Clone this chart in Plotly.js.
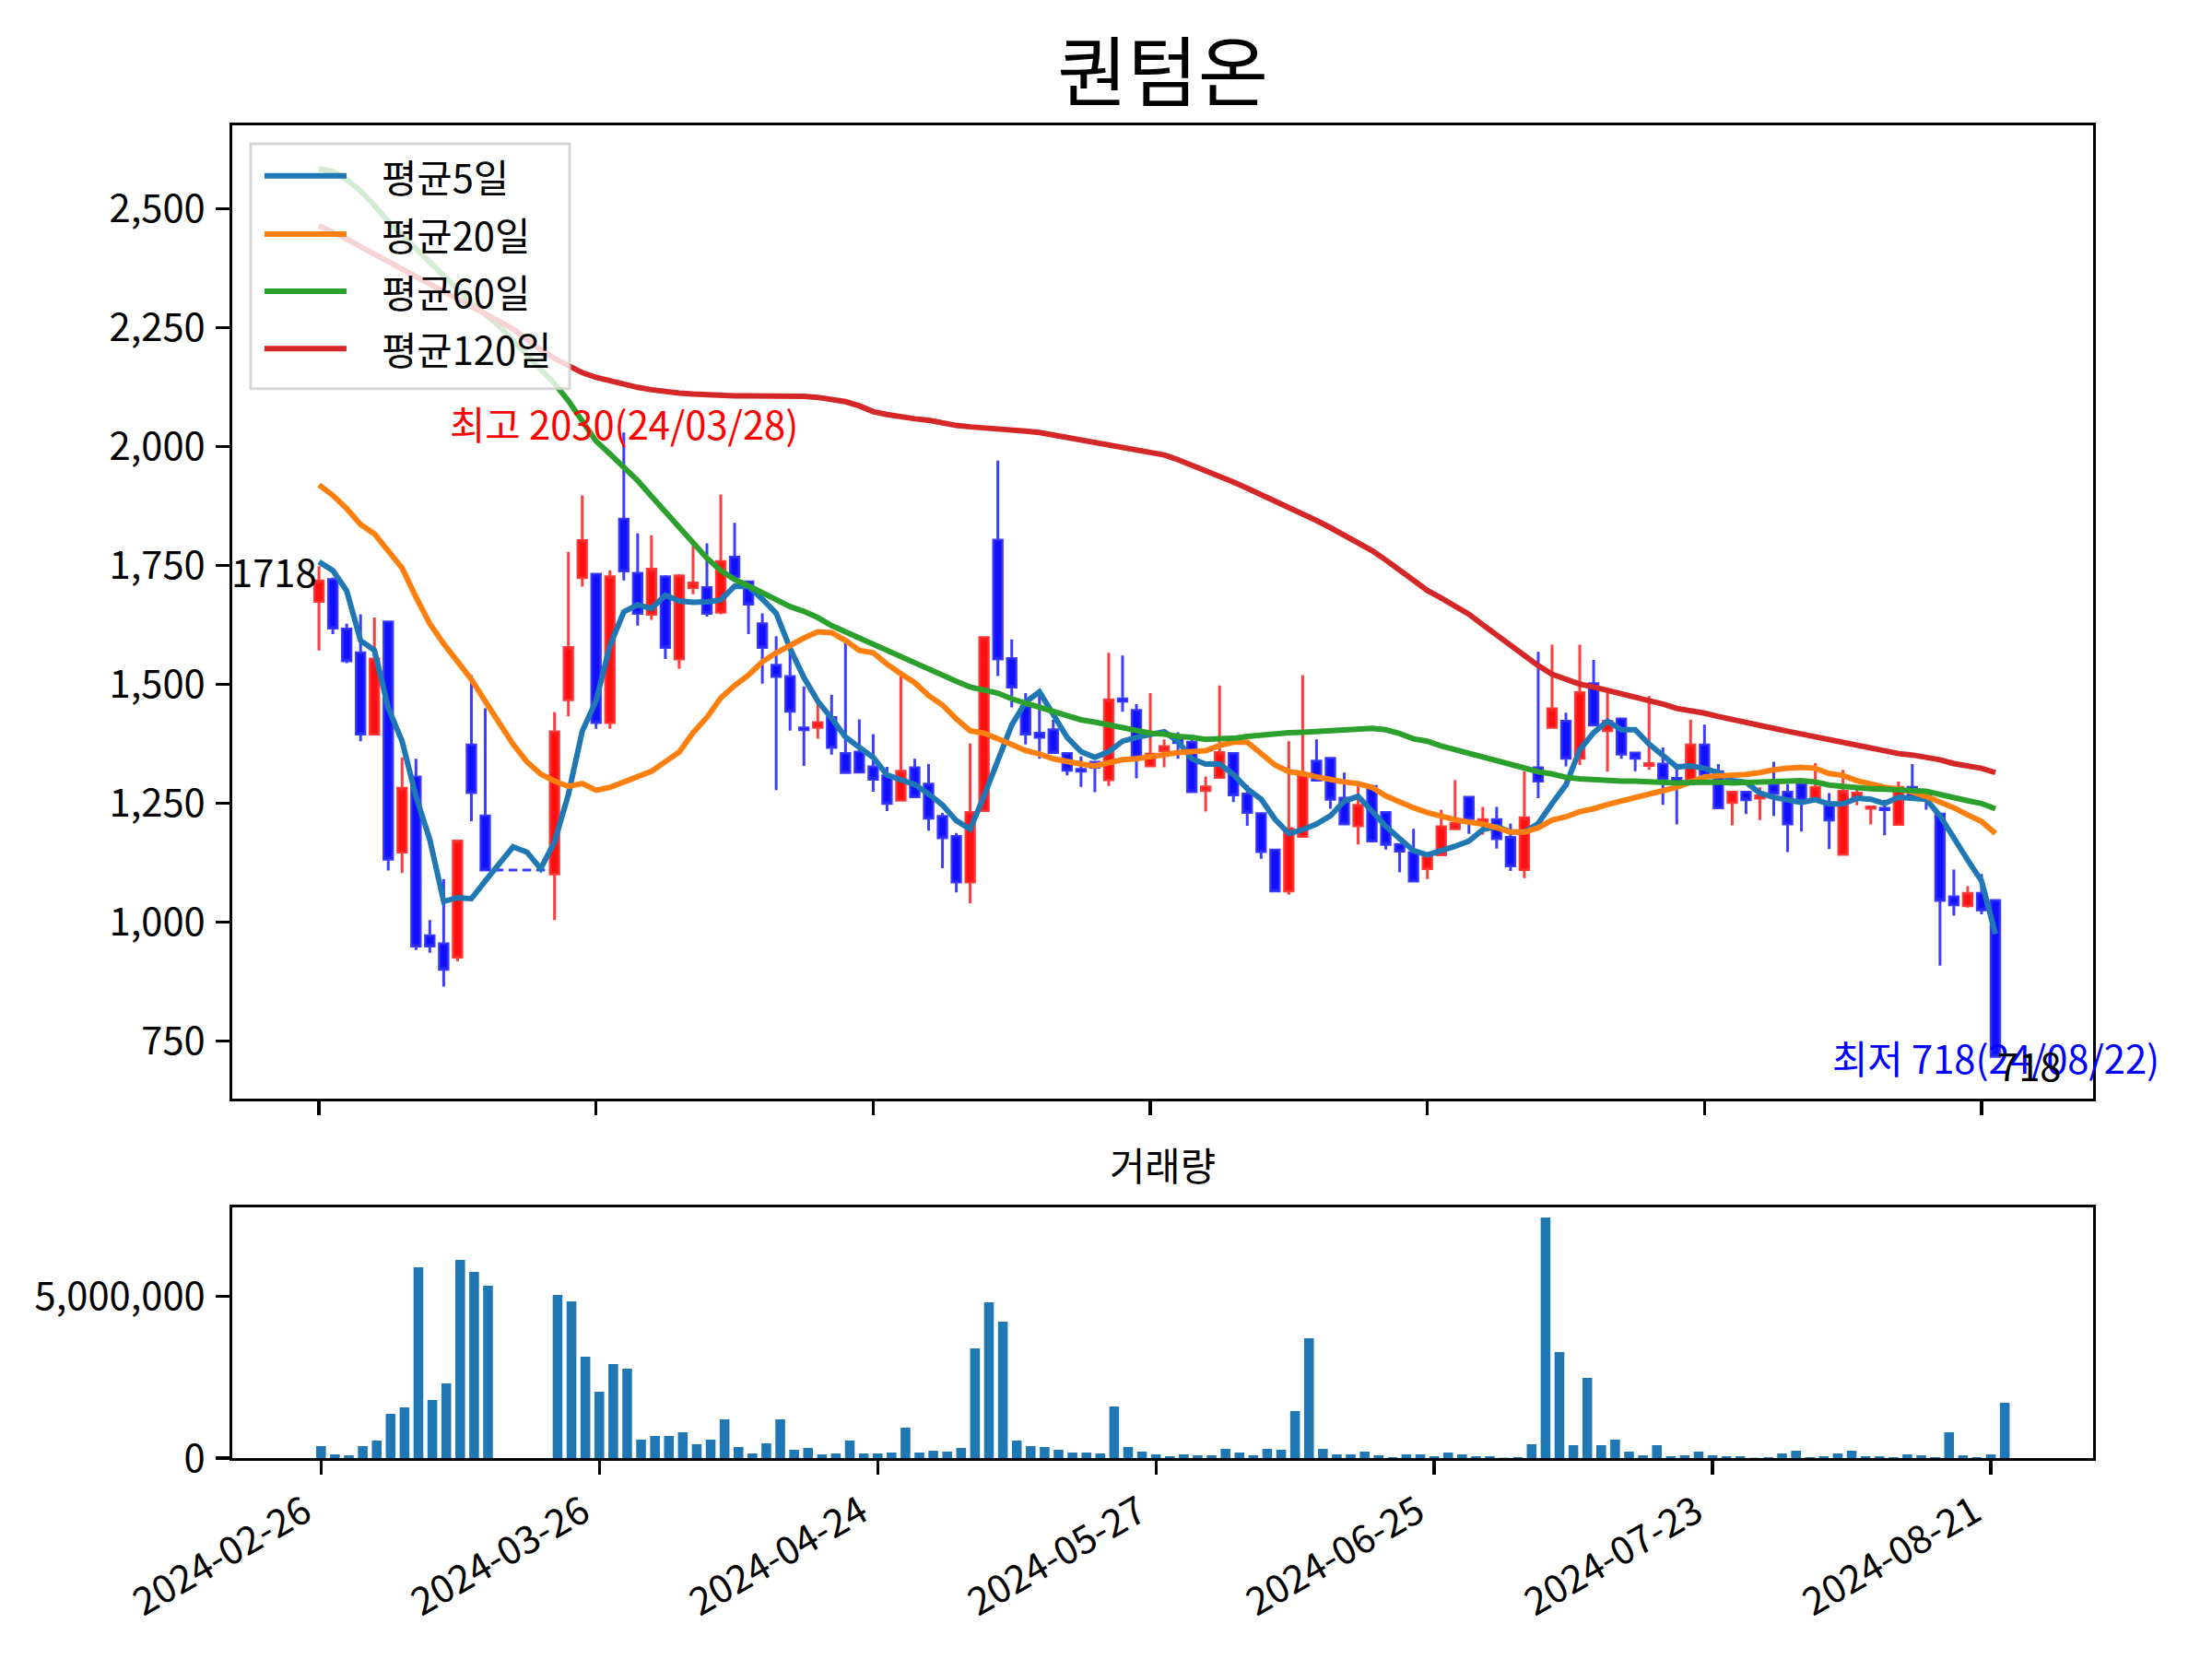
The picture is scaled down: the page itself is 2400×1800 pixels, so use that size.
<!DOCTYPE html>
<html>
<head>
<meta charset="utf-8">
<script src="https://cdn.plot.ly/plotly-3.0.1.min.js"></script>
<style>
  body { margin: 0; background: #ffffff; }
  #chart { width: 2400px; height: 1800px; }
</style>
</head>
<body>
<div id="chart"></div>
<script>
// Tick labels on the date axis (trading-day index -> label)
const tickIdx = [0, 20, 40, 60, 80, 100, 120];
const tickLabels = ["2024-02-26", "2024-03-26", "2024-04-24", "2024-05-27", "2024-06-25", "2024-07-23", "2024-08-21"];

// Daily OHLC
const open = [1675, 1721, 1617, 1567, 1396, 1632, 1148, 1306, 972, 955,
  927, 1373, 1224, 1110, 1110, 1110, 1110, 1102, 1468, 1725,
  1732, 1420, 1848, 1734, 1648, 1727, 1554, 1704, 1704, 1652,
  1768, 1716, 1628, 1541, 1517, 1409, 1410, 1431, 1355, 1358,
  1327, 1308, 1257, 1325, 1291, 1223, 1181, 1085, 1235, 1804,
  1555, 1453, 1398, 1405, 1355, 1322, 1337, 1300, 1470, 1446,
  1329, 1361, 1385, 1379, 1277, 1305, 1355, 1270, 1229, 1152,
  1066, 1181, 1339, 1345, 1261, 1203, 1286, 1231, 1164, 1147,
  1113, 1142, 1197, 1263, 1208, 1216, 1179, 1111, 1325, 1410,
  1423, 1345, 1502, 1403, 1428, 1356, 1330, 1333, 1303, 1302,
  1373, 1317, 1252, 1274, 1261, 1289, 1274, 1291, 1261, 1250,
  1143, 1261, 1240, 1240, 1206, 1284, 1272, 1228, 1054, 1035,
  1061, 1046];
const high = [1749, 1725, 1628, 1648, 1641, 1635, 1347, 1344, 1005, 1091,
  1171, 1520, 1450, 1110, 1110, 1110, 1110, 1442, 1779, 1898,
  1732, 1740, 2030, 1818, 1814, 1730, 1732, 1792, 1797, 1900,
  1840, 1719, 1650, 1602, 1573, 1496, 1465, 1479, 1589, 1427,
  1396, 1327, 1517, 1344, 1333, 1230, 1188, 1376, 1599, 1971,
  1595, 1482, 1482, 1426, 1357, 1349, 1338, 1567, 1561, 1459,
  1482, 1385, 1400, 1385, 1307, 1498, 1355, 1289, 1229, 1152,
  1381, 1520, 1385, 1345, 1315, 1286, 1286, 1234, 1164, 1197,
  1140, 1237, 1299, 1263, 1243, 1243, 1208, 1318, 1569, 1584,
  1441, 1584, 1552, 1483, 1428, 1356, 1476, 1368, 1328, 1426,
  1416, 1333, 1274, 1274, 1284, 1338, 1291, 1291, 1335, 1272,
  1321, 1287, 1244, 1258, 1296, 1333, 1276, 1228, 1111, 1076,
  1102, 1046];
const low = [1572, 1606, 1545, 1381, 1395, 1109, 1104, 942, 936, 865,
  918, 1213, 1107, 1110, 1110, 1110, 1110, 1005, 1433, 1706,
  1407, 1407, 1719, 1624, 1636, 1554, 1533, 1690, 1643, 1648,
  1725, 1606, 1502, 1278, 1403, 1329, 1386, 1353, 1315, 1315,
  1275, 1234, 1257, 1262, 1193, 1114, 1063, 1040, 1235, 1518,
  1452, 1374, 1344, 1356, 1309, 1285, 1274, 1287, 1443, 1303,
  1327, 1326, 1344, 1275, 1233, 1302, 1253, 1203, 1134, 1066,
  1058, 1181, 1298, 1239, 1206, 1164, 1170, 1153, 1105, 1086,
  1091, 1142, 1196, 1186, 1184, 1155, 1108, 1093, 1261, 1409,
  1328, 1331, 1414, 1317, 1344, 1318, 1321, 1247, 1206, 1302,
  1310, 1241, 1204, 1228, 1215, 1224, 1148, 1191, 1261, 1154,
  1142, 1246, 1206, 1183, 1205, 1264, 1237, 909, 1014, 1031,
  1017, 718];
const close = [1718, 1619, 1550, 1396, 1554, 1133, 1282, 950, 950, 901,
  1171, 1273, 1110, 1110, 1110, 1110, 1110, 1401, 1578, 1803,
  1420, 1727, 1739, 1650, 1743, 1578, 1729, 1714, 1650, 1759,
  1727, 1669, 1578, 1517, 1444, 1405, 1420, 1368, 1315, 1316,
  1301, 1250, 1318, 1264, 1219, 1178, 1085, 1231, 1599, 1554,
  1495, 1396, 1389, 1357, 1320, 1318, 1326, 1468, 1465, 1349,
  1354, 1370, 1378, 1275, 1285, 1357, 1268, 1231, 1149, 1066,
  1197, 1308, 1299, 1259, 1207, 1246, 1171, 1164, 1150, 1087,
  1140, 1201, 1208, 1218, 1216, 1176, 1119, 1220, 1297, 1449,
  1345, 1483, 1415, 1423, 1354, 1345, 1334, 1302, 1298, 1373,
  1311, 1241, 1274, 1258, 1266, 1271, 1207, 1259, 1284, 1215,
  1276, 1272, 1243, 1237, 1284, 1265, 1258, 1046, 1037, 1061,
  1026, 718];

// Daily volume
const volume = [371000, 114000, 86000, 371000, 542000, 1369000, 1569000, 5904000, 1797000, 2310000,
  6132000, 5761000, 5333000, 0, 0, 0, 0, 5048000, 4849000, 3137000,
  2054000, 2909000, 2767000, 570000, 685000, 685000, 799000, 428000, 570000, 1198000,
  342000, 143000, 456000, 1198000, 257000, 314000, 114000, 143000, 542000, 143000,
  143000, 171000, 941000, 171000, 228000, 200000, 314000, 3394000, 4820000, 4221000,
  542000, 371000, 342000, 257000, 171000, 171000, 143000, 1597000, 342000, 200000,
  114000, 57000, 114000, 86000, 86000, 285000, 171000, 86000, 285000, 257000,
  1455000, 3708000, 285000, 114000, 114000, 200000, 86000, 29000, 114000, 114000,
  57000, 171000, 114000, 57000, 57000, 10000, 29000, 428000, 7444000, 3280000,
  399000, 2481000, 399000, 570000, 200000, 86000, 399000, 57000, 86000, 200000,
  86000, 57000, 57000, 10000, 29000, 143000, 228000, 29000, 57000, 143000,
  228000, 57000, 57000, 29000, 114000, 86000, 29000, 799000, 86000, 29000,
  114000, 1711000];

// Moving averages as drawn in the picture
const ma5 = [1758, 1740, 1697, 1593, 1572, 1451, 1381, 1265, 1174, 1044,
  1052, 1050, 1087, 1122, 1159, 1148, 1113, 1169, 1269, 1402,
  1466, 1582, 1653, 1668, 1660, 1688, 1676, 1673, 1674, 1678,
  1707, 1706, 1680, 1650, 1576, 1515, 1465, 1429, 1390, 1368,
  1347, 1310, 1301, 1290, 1270, 1247, 1214, 1196, 1266, 1340,
  1415, 1463, 1485, 1437, 1389, 1359, 1347, 1359, 1381, 1389,
  1396, 1401, 1381, 1344, 1333, 1333, 1311, 1281, 1259, 1217,
  1187, 1195, 1207, 1224, 1255, 1265, 1234, 1202, 1176, 1151,
  1142, 1150, 1160, 1171, 1195, 1202, 1190, 1190, 1208, 1250,
  1289, 1363, 1399, 1423, 1405, 1405, 1375, 1351, 1327, 1329,
  1324, 1315, 1298, 1295, 1272, 1263, 1258, 1252, 1258, 1249,
  1249, 1261, 1259, 1250, 1263, 1261, 1259, 1224, 1176, 1131,
  1087, 976];
const ma20 = [1920, 1898, 1870, 1837, 1817, 1782, 1745, 1684, 1628, 1586,
  1550, 1511, 1465, 1420, 1375, 1338, 1312, 1297, 1286, 1292,
  1278, 1284, 1296, 1308, 1318, 1338, 1358, 1399, 1431, 1472,
  1498, 1520, 1548, 1567, 1583, 1598, 1611, 1609, 1593, 1572,
  1567, 1543, 1523, 1504, 1477, 1457, 1428, 1403, 1398, 1387,
  1374, 1361, 1354, 1344, 1337, 1333, 1329, 1337, 1342, 1344,
  1348, 1354, 1357, 1359, 1361, 1372, 1379, 1379, 1354, 1331,
  1317, 1313, 1306, 1300, 1295, 1292, 1284, 1266, 1252, 1241,
  1231, 1222, 1216, 1211, 1207, 1199, 1190, 1190, 1199, 1215,
  1222, 1233, 1239, 1248, 1255, 1263, 1270, 1276, 1284, 1295,
  1306, 1308, 1309, 1311, 1315, 1321, 1324, 1326, 1324, 1313,
  1309, 1298, 1291, 1284, 1280, 1274, 1265, 1254, 1241, 1226,
  1212, 1187];
const ma60 = [2585, 2579, 2562, 2538, 2508, 2474, 2445, 2416, 2389, 2358,
  2329, 2303, 2279, 2254, 2224, 2193, 2163, 2133, 2097, 2055,
  2012, 1985, 1958, 1929, 1896, 1863, 1831, 1797, 1766, 1740,
  1721, 1708, 1693, 1680, 1664, 1654, 1641, 1624, 1611, 1595,
  1583, 1570, 1557, 1545, 1532, 1520, 1507, 1495, 1489, 1482,
  1470, 1461, 1450, 1441, 1433, 1426, 1421, 1415, 1409, 1404,
  1398, 1396, 1391, 1389, 1385, 1386, 1387, 1391, 1394, 1396,
  1399, 1400, 1402, 1404, 1405, 1407, 1408, 1405, 1397, 1386,
  1381, 1371, 1363, 1355, 1347, 1341, 1332, 1323, 1317, 1312,
  1305, 1302, 1300, 1299, 1297, 1297, 1295, 1293, 1293, 1294,
  1295, 1295, 1293, 1293, 1295, 1296, 1298, 1298, 1295, 1289,
  1286, 1283, 1281, 1280, 1278, 1277, 1276, 1269, 1261, 1256,
  1250, 1239];
const ma120 = [2465, 2452, 2437, 2421, 2405, 2390, 2374, 2358, 2343, 2327,
  2311, 2296, 2280, 2264, 2248, 2226, 2204, 2186, 2170, 2156,
  2146, 2138, 2131, 2125, 2120, 2116, 2113, 2111, 2109, 2108,
  2107, 2107, 2107, 2108, 2108, 2106, 2104, 2100, 2095, 2086,
  2074, 2068, 2063, 2059, 2056, 2050, 2045, 2042, 2040, 2039,
  2036, 2033, 2030, 2025, 2020, 2015, 2010, 2005, 2000, 1995,
  1990, 1983, 1973, 1962, 1950, 1938, 1926, 1913, 1900, 1886,
  1873, 1859, 1845, 1830, 1815, 1799, 1782, 1762, 1740, 1718,
  1698, 1682, 1665, 1648, 1626, 1604, 1582, 1560, 1540, 1522,
  1510, 1501, 1495, 1488, 1480, 1474, 1467, 1459, 1450, 1446,
  1440, 1433, 1426, 1419, 1413, 1408, 1402, 1396, 1390, 1384,
  1378, 1372, 1366, 1360, 1355, 1352, 1348, 1342, 1334, 1330,
  1324, 1315];

const maNames = ["평균5일", "평균20일", "평균60일", "평균120일"];
const maColors = ["#1f77b4", "#ff7f0e", "#2ca02c", "#d62728"];

/*
  Traces
*/
var idx = close.map((_, i) => i);
var FONT = "Noto Sans CJK KR, sans-serif";
var FS = 41.7;

var candleTrace = {
  type: "candlestick",
  x: idx,
  open: open,
  high: high,
  low: low,
  close: close,
  xaxis: "x",
  yaxis: "y",
  whiskerwidth: 0,
  increasing: { line: { color: "rgba(255,40,40,0.9)", width: 3 }, fillcolor: "#ff1010" },
  decreasing: { line: { color: "rgba(40,40,255,0.9)", width: 3 }, fillcolor: "#1010ff" },
  showlegend: false,
  hoverinfo: "skip",
};

var maTraces = [ma5, ma20, ma60, ma120].map((vals, k) => ({
  type: "scatter",
  mode: "lines",
  x: idx,
  y: vals,
  name: maNames[k],
  line: { color: maColors[k], width: 6 },
  xaxis: "x",
  yaxis: "y",
  showlegend: false,
  hoverinfo: "skip",
}));

var volumeTrace = {
  type: "bar",
  x: idx,
  y: volume,
  width: 0.7,
  marker: { color: "#1f77b4" },
  xaxis: "x2",
  yaxis: "y2",
  showlegend: false,
  hoverinfo: "skip",
};

// Hand-made legend box in the top-left of the price panel
var legY = [0.9482, 0.8883, 0.8295, 0.7706];
var shapes = [{
  type: "rect", xref: "x domain", yref: "y domain",
  x0: 0.0099, x1: 0.1813, y0: 0.7295, y1: 0.981,
  fillcolor: "rgba(255,255,255,0.8)",
  line: { color: "rgba(204,204,204,0.8)", width: 3 },
  layer: "above",
}];
var annotations = [];
maNames.forEach((name, k) => {
  shapes.push({
    type: "line", xref: "x domain", yref: "y domain",
    x0: 0.0173, x1: 0.0614, y0: legY[k], y1: legY[k],
    line: { color: maColors[k], width: 6 },
    layer: "above",
  });
  annotations.push({
    xref: "x domain", yref: "y domain", x: 0.0792, y: legY[k],
    xanchor: "left", yanchor: "middle", showarrow: false,
    text: name, font: { family: FONT, size: FS, color: "#000000" },
  });
});

// Price labels
annotations.push(
  { x: 22, y: 2050, xref: "x", yref: "y", text: "최고 2030(24/03/28)", showarrow: false,
    xanchor: "center", yanchor: "middle", font: { family: FONT, size: FS, color: "#ff0000" } },
  { x: 121, y: 717, xref: "x", yref: "y", text: "최저 718(24/08/22)", showarrow: false,
    xanchor: "center", yanchor: "middle", font: { family: FONT, size: FS, color: "#0000ff" } },
  { x: 0, y: 1739, xref: "x", yref: "y", text: String(close[0]), showarrow: false,
    xanchor: "right", yanchor: "middle", font: { family: FONT, size: FS, color: "#000000" } },
  { x: 121, y: 701, xref: "x", yref: "y", text: String(close[close.length - 1]), showarrow: false,
    xanchor: "left", yanchor: "middle", font: { family: FONT, size: FS, color: "#000000" } },
  { x: 0.5, y: 1.175, xref: "x2 domain", yref: "y2 domain", text: "거래량", showarrow: false,
    xanchor: "center", yanchor: "middle", font: { family: FONT, size: FS, color: "#000000" } }
);

var axisCommon = {
  showline: true,
  mirror: true,
  linecolor: "#000000",
  linewidth: 3.3,
  ticks: "outside",
  ticklen: 14.6,
  tickwidth: 3.3,
  tickcolor: "#000000",
  showgrid: false,
  zeroline: false,
  tickfont: { family: FONT, size: FS, color: "#000000" },
};

var layout = {
  width: 2400,
  height: 1800,
  margin: { l: 252, r: 129, t: 136, b: 218, pad: 0 },
  paper_bgcolor: "#ffffff",
  plot_bgcolor: "#ffffff",
  font: { family: FONT, size: FS, color: "#000000" },
  title: {
    text: "퀀텀온",
    font: { family: FONT, size: 83, color: "#000000" },
    x: 0.5, xref: "paper", xanchor: "center",
    y: 0.9555, yref: "container", yanchor: "middle",
  },
  boxgap: 0.2,
  boxgroupgap: 0.22,
  xaxis: Object.assign({}, axisCommon, {
    domain: [0, 1],
    anchor: "y",
    range: [-6.26, 128.05],
    tickmode: "array",
    tickvals: tickIdx,
    showticklabels: false,
    rangeslider: { visible: false },
  }),
  yaxis: Object.assign({}, axisCommon, {
    domain: [0.2697, 1],
    anchor: "x",
    range: [629.4, 2676],
    tickmode: "array",
    tickvals: [750, 1000, 1250, 1500, 1750, 2000, 2250, 2500],
    tickformat: ",d",
    ticklabelstandoff: 3,
  }),
  xaxis2: Object.assign({}, axisCommon, {
    domain: [0, 1],
    anchor: "y2",
    range: [-6.38, 127.35],
    tickmode: "array",
    tickvals: tickIdx,
    ticktext: tickLabels,
    tickangle: -30,
    ticklabelshift: -18,
  }),
  yaxis2: Object.assign({}, axisCommon, {
    domain: [0, 0.1878],
    anchor: "x2",
    range: [0, 7744000],
    tickmode: "array",
    tickvals: [0, 5000000],
    tickformat: ",d",
    ticklabelstandoff: 3,
  }),
  shapes: shapes,
  annotations: annotations,
};

var config = { displayModeBar: false, staticPlot: true };

Plotly.newPlot("chart", [candleTrace].concat(maTraces, [volumeTrace]), layout, config);
</script>
</body>
</html>
